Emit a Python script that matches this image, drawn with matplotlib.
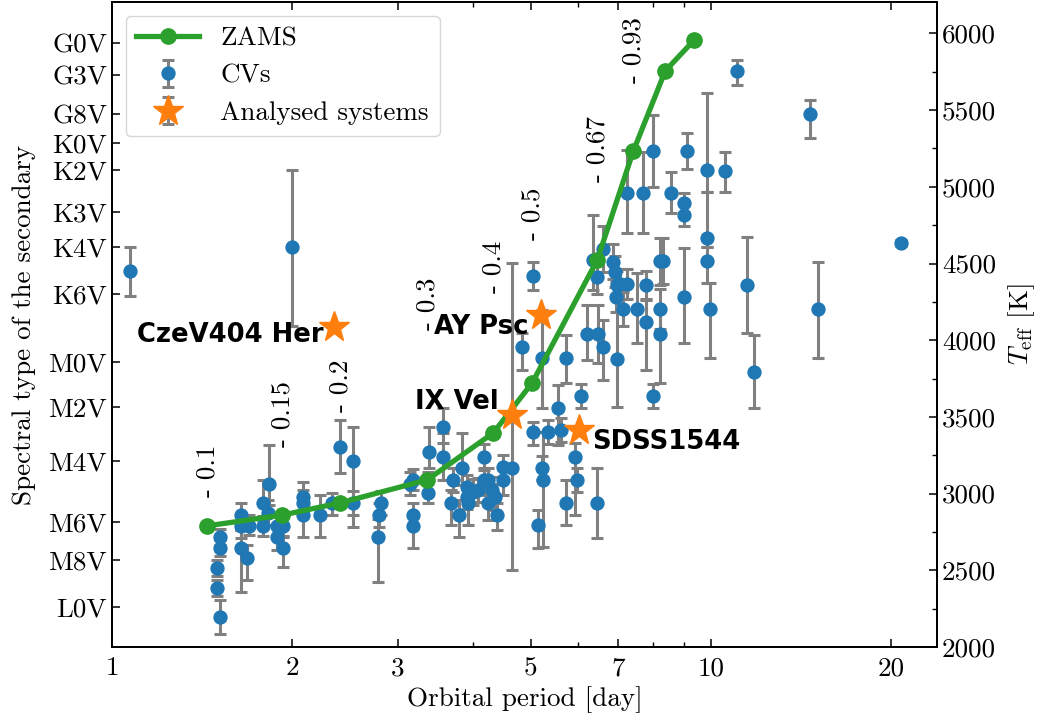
import matplotlib
matplotlib.use("Agg")
import matplotlib.pyplot as plt
from matplotlib.ticker import FixedLocator, LogLocator, MultipleLocator, NullFormatter

plt.rcParams["font.family"] = "serif"
plt.rcParams["font.serif"] = ["cmr10"]
plt.rcParams["mathtext.fontset"] = "cm"
plt.rcParams["axes.formatter.use_mathtext"] = True
plt.rcParams["font.size"] = 19.5
plt.rcParams["axes.linewidth"] = 1.3

# CV sample: orbital period, Teff and asymmetric Teff errors (lower, upper)
cv_period = [
    1.070, 2.001,
    1.517, 1.517, 1.500, 1.500, 1.517,
    1.645, 1.645, 1.645, 1.677, 1.690,
    1.789, 1.789, 1.831, 1.824,
    1.889, 1.889, 1.933, 1.933,
    2.087, 2.087, 2.087, 2.228, 2.333,
    2.406, 2.529, 2.529,
    2.817, 2.795, 2.784,
    3.185, 3.150, 3.185, 3.185,
    3.375, 3.388, 3.574, 3.574,
    3.714, 3.686, 3.800, 3.845,
    3.920, 3.920, 4.011, 3.935, 4.088,
    4.184, 4.184, 4.249, 4.315, 4.249,
    4.398, 4.365, 4.501, 4.501, 4.659,
    5.050, 4.842, 5.228, 5.733, 6.214, 6.480, 6.609, 6.974,
    6.061, 5.559, 5.050, 5.351, 5.624,
    5.934, 5.980, 5.733, 6.458,
    5.228, 5.249, 5.149,
    6.359, 6.609, 6.867, 6.458, 6.920, 6.974, 6.947, 7.137, 7.055, 7.248,
    7.248, 7.707, 7.993, 8.583, 9.022, 9.022, 9.127,
    9.856, 10.56, 9.856, 9.856, 9.970, 9.022,
    8.227, 8.322, 8.227, 8.227,
    7.796, 7.796, 7.532, 7.993,
    11.06, 14.64, 11.49, 11.81, 15.10, 20.77,
]
cv_teff = [
    4452, 4608,
    2717, 2646, 2515, 2385, 2196,
    2861, 2789, 2646, 2580, 2789,
    2939, 2789, 3063, 2874,
    2789, 2717, 2789, 2646,
    2978, 2939, 2861, 2861, 2939,
    3304, 3213, 2939,
    2939, 2861, 2714,
    3089, 3063, 2861, 2789,
    3007, 3272, 3435, 3239,
    3089, 2939, 2861, 3167,
    3043, 2978, 3011, 2939, 3024,
    3239, 3089, 3089, 3024, 2939,
    2861, 2978, 3089, 3171, 3167,
    4419, 3956, 3885, 3885, 4041, 4041, 3956, 3878,
    3637, 3559, 3402, 3402, 3415,
    3239, 3089, 2939, 2939,
    3167, 3089, 2796,
    4524, 4596, 4511, 4413, 4446, 4360, 4282, 4204, 4367, 4367,
    4961, 4961, 5234, 4961, 4895, 4817, 5234,
    5111, 5104, 4667, 4517, 4204, 4282,
    4517, 4517, 4204, 4041,
    4360, 4119, 4204, 3637,
    5756, 5476, 4360, 3793, 4204, 4634,
]
cv_err_low = [
    163, 515,
    52, 52, 52, 52, 111,
    98, 78, 287, 143, 59,
    111, 65, 137, 78,
    72, 85, 72, 124,
    85, 85, 143, 143, 78,
    170, 430, 80,
    80, 78, 293,
    65, 75, 78, 143,
    65, 104, 104, 150,
    78, 143, 143, 111,
    80, 80, 85, 143, 80,
    85, 78, 98, 82, 111,
    98, 82, 98, 80, 665,
    91, 150, 326, 163, 170, 190, 215, 313,
    80, 241, 85, 80, 80,
    378, 78, 143, 228,
    80, 437, 150,
    196, 150, 115, 110, 100, 90, 100, 110, 100, 100,
    261, 261, 235, 130, 65, 70, 117,
    143, 137, 59, 143, 320, 300,
    157, 150, 130, 320,
    90, 313, 222, 80,
    91, 157, 313, 235, 320, 20,
]
cv_err_high = [
    157, 502,
    52, 52, 52, 52, 111,
    78, 72, 117, 85, 72,
    150, 65, 254, 85,
    72, 78, 72, 78,
    98, 85, 98, 130, 65,
    176, 222, 80,
    80, 78, 120,
    72, 75, 78, 78,
    137, 163, 124, 157,
    78, 85, 98, 228,
    80, 80, 85, 85, 80,
    85, 78, 78, 82, 85,
    78, 82, 98, 80, 1337,
    91, 91, 313, 150, 189, 190, 176, 398,
    80, 150, 65, 80, 80,
    91, 78, 150, 228,
    80, 313, 98,
    293, 150, 115, 110, 100, 90, 100, 110, 100, 100,
    280, 267, 235, 137, 65, 70, 117,
    502, 124, 300, 91, 170, 320,
    150, 150, 130, 157,
    90, 143, 235, 80,
    72, 91, 313, 241, 306, 20,
]

# ZAMS track with masses (Msun) of the labelled points
zams_period = [1.443, 1.925, 2.406, 3.361, 4.331, 5.03, 6.46, 7.42, 8.39, 9.38]
zams_teff = [2790, 2860, 2940, 3090, 3396, 3722, 4524, 5234, 5756, 5958]
zams_mass = ["0.1", "0.15", "0.2", "0.3", "0.4", "0.5", "0.67", "0.93"]
mass_label_teff = [2978, 3304, 3532, 4067, 4308, 4654, 5032, 5678]

# systems analysed in this work
system_names = ["CzeV404 Her", "AY Psc", "IX Vel", "SDSS1544"]
system_period = [2.351, 5.207, 4.659, 6.027]
system_teff = [4087, 4165, 3513, 3415]
system_err = [0, 0, 0, 0]
system_label_offset = [(-8, -6), (-9, -9), (-10, 9), (9, -9)]
system_label_ha = ["right", "right", "right", "left"]

spectral_types = ["G0V", "G3V", "G8V", "K0V", "K2V", "K3V", "K4V", "K6V",
                  "M0V", "M2V", "M4V", "M6V", "M8V", "L0V"]
spectral_teff = [5939, 5730, 5476, 5287, 5110, 4837, 4608, 4302,
                 3858, 3565, 3213, 2815, 2567, 2261]

period_ticks = [1, 2, 3, 5, 7, 10, 20]
teff_ticks = [2000, 2500, 3000, 3500, 4000, 4500, 5000, 5500, 6000]


def render_chart(figure_path):
    fig = plt.figure(figsize=(10.45, 7.2), dpi=100)
    ax = fig.add_axes([0.1072, 0.1014, 0.7895, 0.8958])

    ax.plot(zams_period, zams_teff, "-o", color="C2", lw=3.8, ms=11,
            label="ZAMS", zorder=3)
    ax.errorbar(cv_period, cv_teff, yerr=[cv_err_low, cv_err_high], fmt="o",
                color="C0", ecolor="gray", elinewidth=2.2, capsize=4.3,
                capthick=2.2, ms=9.3, label="CVs", zorder=2)
    ax.errorbar(system_period, system_teff, yerr=system_err, fmt="*",
                color="C1", ecolor="gray", elinewidth=2.2, capsize=4.3,
                capthick=2.2, ms=23, label="Analysed systems", zorder=4)

    for period, teff, mass in zip(zams_period, mass_label_teff, zams_mass):
        ax.text(period, teff, f"- {mass}", rotation=90, ha="center", va="bottom")

    for name, period, teff, offset, ha in zip(system_names, system_period, system_teff,
                                              system_label_offset, system_label_ha):
        ax.annotate(name, (period, teff), xytext=offset, textcoords="offset points",
                    ha=ha, va="center", fontsize=18.6, fontweight="bold",
                    family="DejaVu Sans", zorder=5)

    ax.set_xscale("log")
    ax.set_xlim(1, 23.85)
    ax.set_ylim(2000, 6205)
    ax.xaxis.set_major_locator(FixedLocator(period_ticks))
    ax.set_xticklabels([str(p) for p in period_ticks])
    ax.xaxis.set_minor_locator(LogLocator(subs=range(2, 10)))
    ax.xaxis.set_minor_formatter(NullFormatter())
    ax.set_yticks(spectral_teff)
    ax.set_yticklabels(spectral_types)
    ax.tick_params(axis="x", which="major", direction="in", top=True, length=6, width=1.1, pad=7)
    ax.tick_params(axis="x", which="minor", direction="in", top=True, length=3.5, width=1.0)
    ax.tick_params(axis="y", direction="in", right=False, length=6, width=1.1)
    ax.set_xlabel("Orbital period [day]")
    ax.set_ylabel("Spectral type of the secondary", labelpad=9)

    twin = ax.twinx()
    twin.set_ylim(ax.get_ylim())
    twin.set_yticks(teff_ticks)
    twin.set_yticklabels([str(t) for t in teff_ticks])
    twin.yaxis.set_minor_locator(MultipleLocator(250))
    twin.tick_params(axis="y", which="major", direction="in", length=6, width=1.1)
    twin.tick_params(axis="y", which="minor", direction="in", length=3.5, width=1.0)
    twin.set_ylabel(r"$T_{\rm eff}$ [K]", labelpad=7)

    ax.legend(loc="upper left", handlelength=2.3)

    fig.savefig(figure_path, dpi=100)
    plt.close(fig)
    return figure_path


render_chart("out.png")
